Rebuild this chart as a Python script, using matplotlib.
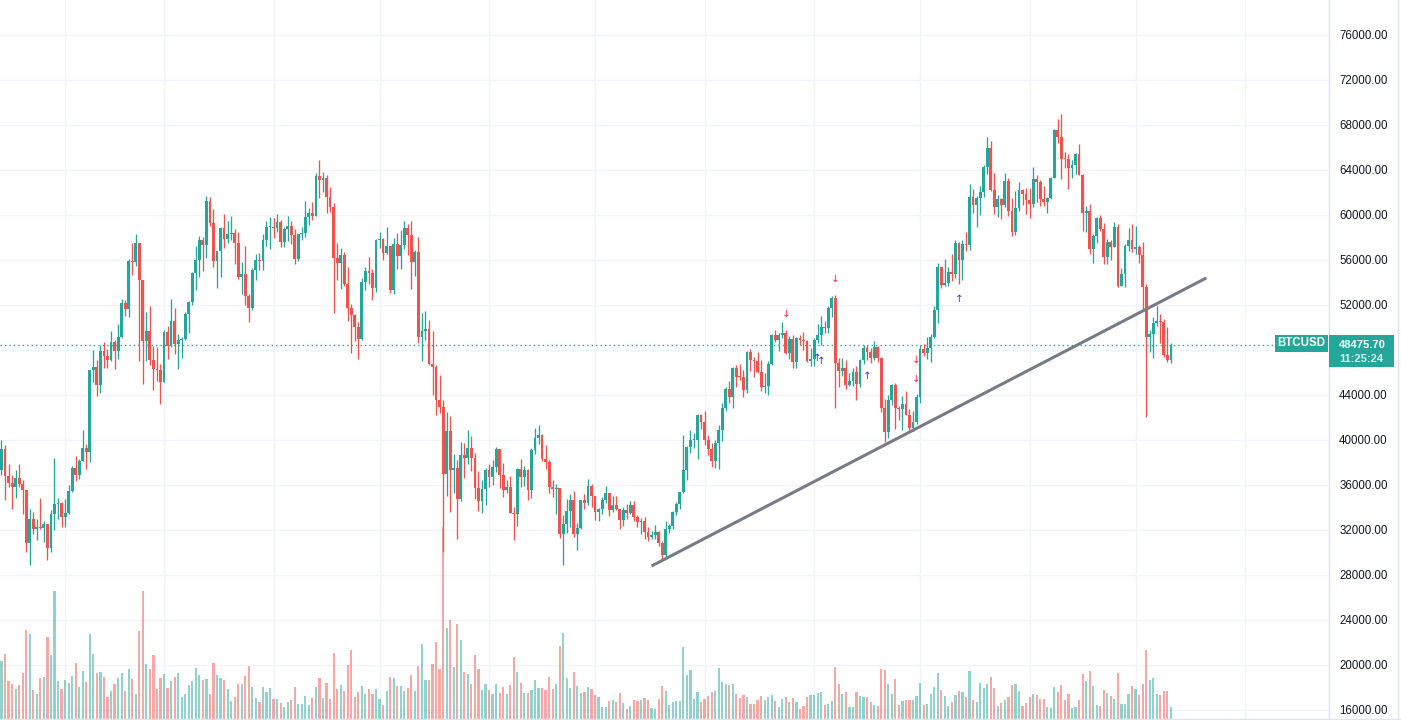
import matplotlib
matplotlib.use('Agg')
import matplotlib.pyplot as plt
import matplotlib.transforms as mtrans
from matplotlib.patches import Rectangle
from matplotlib.lines import Line2D
import numpy as np
import pandas as pd

# ---------------- data (BTCUSD daily, 2021-01-14 .. 2021-12-11) ----------------
start_date = '2021-01-14'
first_open = 37316

closes = [
    # Jan
    39187, 36825, 36178, 35792, 36630, 36069, 35547, 30825, 33005, 32067, 32289, 32200, 32569, 30432, 33466, 34316, 34400, 33114,
    # Feb
    33537, 35510, 37472, 36926, 38144, 39266, 38903, 46196, 46481, 44918, 47909, 47504, 47105, 48717, 47945, 49199, 52149, 51679,
    55888, 55800, 57539, 54207, 48824, 49705, 47093, 46339, 46188, 45137,
    # Mar
    49631, 48378, 50538, 48561, 48927, 49000, 51206, 52246, 54824, 56008, 57805, 57332, 61243, 59302, 55907, 56804, 58870, 57858,
    58346, 58400, 57523, 54529, 54738, 52774, 51704, 55137, 55973, 55950, 57750, 58917, 58918,
    # Apr
    58800, 59384, 57603, 58758, 59057, 58192, 56048, 58323, 58400, 59793, 60204, 59893, 63503, 63109, 63314, 61572, 60683, 56216,
    55724, 56473, 53906, 51762, 51093, 50050, 49004, 54021, 55033, 54824, 53555, 57750,
    # May
    57828, 56631, 57200, 53333, 57424, 56397, 57357, 58803, 58232, 55859, 56704, 49150, 49716, 49880, 46760, 46456, 43538, 42909,
    37002, 40782, 37304, 37536, 34770, 38705, 38402, 39294, 38436, 35697, 34616, 35678, 37332,
    # Jun
    36684, 37575, 39188, 36851, 35520, 35797, 33552, 33380, 37388, 36702, 37334, 35552, 39097, 40219, 40406, 38347, 38053, 35787,
    35615, 35698, 31676, 32505, 33723, 34662, 31637, 32186, 34649, 34434, 35867, 35040,
    # Jul
    33572, 33897, 34668, 35287, 33746, 34235, 33855, 32877, 33798, 33520, 34240, 33155, 32702, 32822, 31780, 31421, 31533, 31796,
    30817, 29807, 32110, 32313, 33581, 34292, 35350, 37337, 39406, 39995, 40008, 42235, 41626,
    # Aug
    39974, 39201, 38152, 39747, 40869, 42816, 44555, 43798, 46365, 45585, 45560, 44428, 47794, 47097, 47047, 46004, 44695, 44801,
    46717, 49339, 48905, 49321, 49547, 47706, 48960, 46943, 49058, 48903, 48829, 47054, 47166,
    # Sep
    48847, 49327, 50025, 49944, 51753, 52633, 46811, 46091, 46391, 44883, 45201, 46063, 44963, 47092, 48176, 47783, 47267, 48278,
    47260, 42844, 40693, 43574, 44895, 42839, 42716, 43208, 42235, 41034, 41564, 43790,
    # Oct
    48116, 47711, 48199, 49112, 51514, 55361, 53805, 53967, 54968, 54771, 57484, 56041, 57401, 57321, 61593, 60892, 61553, 62026,
    64261, 65992, 62210, 60692, 61393, 60930, 63039, 60363, 58482, 60622, 62227, 61888, 61319,
    # Nov
    61004, 63226, 62970, 61452, 61125, 61527, 63327, 67566, 66971, 64995, 64949, 64155, 64469, 65466, 63557, 60161, 60368, 56942,
    58119, 59697, 58730, 56289, 57569, 57167, 58960, 53726, 54721, 57274, 57776, 56951,
    # Dec
    57184, 56480, 53601, 49153, 49396, 50441, 50589, 50471, 47545, 47140, 48475.70,
]

highs = [
    39966, 39577, 37900, 36853, 37299, 37850, 36415, 35552, 33827, 33561, 32944, 34802, 32794, 32557, 33783, 38406, 34834, 34500,
    34717, 35984, 37662, 38592, 38310, 40846, 39621, 46204, 48003, 47145, 48463, 48745, 48047, 49707, 48875, 50341, 52533, 52474,
    56113, 57505, 58352, 57534, 54205, 51374, 51947, 48370, 48253, 46716,
    49790, 50128, 52536, 51735, 49432, 49147, 51384, 52314, 54900, 57258, 58091, 58079, 61683, 61597, 60540, 56833, 58970, 60048,
    59468, 59880, 58767, 58471, 55830, 57200, 53000, 55300, 56568, 56610, 58342, 59447, 59800,
    59740, 60110, 59592, 58913, 59891, 59474, 58731, 58338, 58937, 61217, 60659, 61185, 63742, 64863, 63800, 63523, 62507, 61057,
    57526, 57076, 56710, 55410, 52131, 51167, 50506, 54356, 55416, 56227, 55173, 57900,
    58448, 57942, 58973, 57227, 57939, 58360, 58650, 59464, 59210, 59500, 56872, 58000, 51330, 51438, 50639, 49720, 46623, 45812,
    43546, 42462, 42172, 38776, 38202, 39835, 39743, 40900, 40379, 38856, 37234, 36400, 37468,
    37896, 38231, 39367, 39242, 37917, 36436, 36790, 34017, 37534, 38334, 37680, 37439, 39322, 41064, 41295, 40516, 39513, 38187,
    36457, 36059, 35721, 33292, 34753, 35164, 35487, 32637, 34656, 35219, 36542, 36074,
    35035, 33939, 34909, 35937, 35284, 35038, 35056, 33910, 34042, 34267, 34592, 34617, 33330, 33079, 33159, 32249, 31936, 32420,
    31885, 31032, 32820, 32576, 33650, 34464, 35364, 40415, 39500, 40879, 40625, 42316, 42300,
    42541, 40446, 39772, 39969, 41341, 43271, 44689, 45282, 46456, 46637, 46718, 46228, 47886, 48098, 47372, 47837, 47088, 45969,
    47029, 49380, 49758, 49488, 50482, 49802, 49202, 49347, 49112, 49289, 49640, 48873, 48178,
    49052, 50343, 51033, 50541, 51868, 52780, 52853, 47281, 47261, 47114, 45970, 46364, 46598, 47218, 48450, 48486, 48167, 48791,
    48328, 47347, 43600, 44035, 44978, 45080, 42996, 43920, 44313, 42775, 42545, 44092,
    48436, 48496, 49130, 49456, 51886, 55750, 55338, 56100, 55337, 56545, 57812, 57627, 57751, 58500, 62757, 62275, 61687, 62614,
    64434, 66930, 66600, 63715, 61743, 61505, 63710, 63278, 61496, 62128, 62927, 62330, 62406,
    62419, 64242, 63516, 63123, 62541, 61590, 63400, 67673, 68530, 68990, 65579, 65460, 64915, 65495, 66281, 63617, 60823, 60948,
    58351, 59859, 60004, 59266, 57875, 57803, 59367, 59186, 55280, 57393, 58872, 59176,
    59041, 57375, 57600, 53904, 49768, 50929, 51934, 51171, 50797, 50015, 48600,
]

lows = [
    36868, 34659, 35820, 33850, 34883, 35844, 33400, 30071, 28850, 31680, 31106, 32087, 30940, 29367, 30013, 31991, 32940, 32270,
    32296, 33418, 35362, 36317, 36570, 38138, 37446, 38076, 45166, 43881, 44187, 46424, 46392, 47022, 46347, 47201, 49072, 51015,
    50937, 54626, 55477, 47000, 45000, 47003, 46682, 44454, 45269, 43241,
    45115, 47228, 48274, 47656, 46300, 47257, 48918, 49506, 51981, 53290, 54484, 54988, 56218, 59000, 55393, 53555, 54528, 57023,
    57510, 57820, 55600, 54288, 53000, 52000, 50500, 51579, 54242, 55071, 55139, 57251, 56962,
    57935, 58506, 57117, 57168, 57694, 57400, 55604, 55879, 57807, 58050, 59143, 59562, 59869, 61554, 62020, 60222, 60239, 51300,
    54221, 53457, 53695, 50583, 47714, 48805, 47159, 48852, 53319, 53887, 52400, 53129,
    57052, 56035, 56541, 53046, 52969, 55200, 55241, 56975, 56482, 53400, 54608, 48600, 46980, 48868, 46664, 43963, 42207, 42367,
    30000, 35050, 33616, 35257, 31227, 34551, 36581, 37869, 37247, 34779, 33693, 33520, 34241,
    35787, 35966, 37170, 35717, 34900, 35304, 33480, 31114, 32396, 35847, 35936, 34707, 34864, 38735, 39609, 38176, 37439, 35255,
    34933, 33432, 31295, 28893, 31772, 32286, 31350, 30184, 32071, 33902, 34252, 34086,
    32883, 32770, 33402, 34396, 33213, 33599, 33779, 32133, 32318, 33004, 33450, 32843, 32257, 31661, 31175, 31047, 31179, 31225,
    30563, 29360, 29526, 31745, 32057, 33316, 33881, 35298, 36441, 38815, 39296, 38323, 41002,
    39540, 38703, 37642, 37508, 37458, 39932, 42618, 43261, 42848, 44705, 45351, 43861, 44217, 46177, 45611, 45954, 44376, 44204,
    43998, 46650, 48679, 47947, 49074, 47646, 47163, 46405, 46394, 48428, 47974, 46950, 46620,
    46537, 48652, 48453, 49521, 49543, 50969, 42844, 44732, 45669, 44510, 44771, 44793, 43591, 44752, 46773, 47079, 46805, 47087,
    46958, 42500, 39787, 40191, 43109, 40936, 41759, 40848, 42190, 40931, 40829, 41444,
    43320, 47430, 47156, 46895, 49073, 50382, 53525, 53661, 53702, 54119, 54416, 53879, 54258, 56818, 56868, 60150, 58963, 60012,
    61622, 63610, 62117, 60122, 59826, 59643, 60673, 59884, 58173, 58206, 60329, 60918, 60074,
    59695, 60673, 61184, 60799, 60844, 60163, 61432, 63344, 66382, 63208, 64180, 62333, 63303, 63647, 63548, 58574, 58515, 56550,
    55705, 57469, 58618, 55679, 55632, 55964, 57146, 53569, 53668, 53576, 56792, 56675,
    56553, 55777, 51680, 42000, 47857, 47281, 50176, 48639, 47358, 46900, 46800,
]

# daily volume (thousand units)
volumes = [
    58, 65, 38, 35, 30, 34, 46, 89, 85, 29, 25, 41, 42, 82, 64, 128, 38, 30,
    39, 36, 43, 56, 32, 48, 37, 85, 65, 46, 47, 42, 22, 28, 35, 41, 46, 28, 50, 40, 25, 88, 128, 55, 50, 64, 30, 41,
    45, 31, 38, 42, 46, 22, 25, 34, 38, 51, 44, 39, 40, 25, 56, 44, 41, 39, 30, 18, 22, 35, 35, 43, 53, 32, 21, 17, 32, 27, 31,
    20, 20, 16, 12, 17, 19, 32, 15, 15, 23, 14, 21, 32, 41, 21, 36, 20, 66, 30, 34, 28, 54, 69, 22, 27, 33, 25, 30, 25, 30,
    20, 14, 28, 42, 41, 33, 33, 28, 31, 44, 28, 53, 75, 39, 39, 55, 77, 50, 192, 91, 99, 52, 95, 79, 47, 45, 35, 64, 50, 29, 35,
    29, 25, 35, 26, 32, 25, 34, 62, 47, 36, 26, 26, 29, 39, 31, 31, 29, 42, 30, 35, 73, 86, 41, 31, 47, 33, 26, 27, 32, 30,
    24, 22, 12, 12, 18, 19, 17, 26, 16, 10, 13, 19, 18, 19, 21, 19, 11, 10, 20, 33, 28, 14, 17, 18, 18, 72, 44, 49, 20, 27, 17,
    20, 23, 27, 28, 51, 37, 35, 34, 35, 25, 21, 24, 22, 15, 15, 19, 23, 19, 22, 24, 18, 12, 20, 22, 17, 21, 17, 10, 13, 22, 24,
    24, 26, 27, 14, 15, 18, 52, 35, 25, 27, 12, 12, 27, 23, 22, 22, 17, 14, 13, 50, 49, 35, 25, 40, 14, 18, 19, 19, 19, 23,
    36, 14, 15, 25, 32, 46, 29, 23, 13, 17, 24, 28, 27, 22, 48, 19, 17, 36, 31, 35, 42, 31, 13, 16, 19, 22, 34, 35, 28, 13, 16,
    22, 25, 24, 20, 20, 12, 11, 32, 27, 34, 19, 25, 11, 12, 19, 45, 38, 48, 33, 14, 13, 29, 26, 23, 20, 46, 15, 15, 25, 33,
    30, 24, 35, 69, 39, 41, 25, 24, 28, 28, 12,
]

# each daily candle opens at the previous day's close
opens = [first_open] + closes[:-1]

price_ticks = list(range(16000, 76001, 4000))
hidden_tick = 48000          # covered by the last-price badge in the reference
symbol_label = 'BTCUSD'
last_price_label = '48475.70'
countdown_label = '11:25:24'

trend_dates = ['2021-07-17', '2021-12-21']
trend_prices = [28800, 54400]

down_arrow_dates = ['2021-08-24', '2021-09-07', '2021-09-30', '2021-09-30']
down_arrow_prices = [51200, 54300, 47100, 45400]
up_arrow_dates = ['2021-09-02', '2021-09-03', '2021-09-16', '2021-10-12']
up_arrow_prices = [47300, 47000, 45700, 52500]

# ---------------- styling ----------------
UP = '#26a69a'
DOWN = '#ef5350'
GRID = '#f0f3fa'
BORDER = '#e0e3eb'
TEXT = '#131722'

W, H = 1401, 720
PANE_W = 1329
PX_PER_BAR = 3.533

fig = plt.figure(figsize=(W / 100, H / 100), dpi=100)
fig.patch.set_facecolor('white')
ax_v = fig.add_axes([0, 0, PANE_W / W, 1])
ax = fig.add_axes([0, 0, PANE_W / W, 1], sharex=ax_v)
ax.patch.set_visible(False)

start = pd.Timestamp(start_date)
def idx(d):
    return (pd.Timestamp(d) - start).days

n = len(closes)
x = np.arange(n)
o = np.array(opens, dtype=float)
c = np.array(closes, dtype=float)
hi = np.maximum(np.array(highs, dtype=float), np.maximum(o, c))
lo = np.minimum(np.array(lows, dtype=float), np.minimum(o, c))
up = c >= o
cols = np.where(up, UP, DOWN)

ax_v.set_xlim(-1.5 / PX_PER_BAR, (PANE_W - 1.5) / PX_PER_BAR)
ax_v.set_ylim(-1, 719)
ax.set_ylim(15111, 79111)

for a in (ax, ax_v):
    for s in a.spines.values():
        s.set_visible(False)
ax_v.set_xticks([]); ax_v.set_yticks([])
ax.tick_params(axis='x', which='both', length=0, labelbottom=False)

# grid
for m in pd.date_range('2021-02-01', '2022-01-01', freq='MS'):
    ax_v.axvline(idx(m), color=GRID, lw=1, zorder=0)
blend = mtrans.blended_transform_factory(ax_v.transAxes, ax.transData)
for t in price_ticks:
    ax_v.plot([0, 1], [t, t], transform=blend, color=GRID, lw=1, zorder=0)

# volume
ax_v.bar(x, volumes, width=0.62, color=cols, alpha=0.5, lw=0, zorder=1)

# candles
ax.vlines(x, lo, hi, colors=cols, lw=0.95, zorder=3)
body_bottom = np.minimum(o, c)
body_h = np.maximum(np.abs(c - o), 90)
ax.bar(x, body_h, bottom=body_bottom, width=0.8, color=cols, lw=0, zorder=4)

# last price line
ax.axhline(closes[-1], color=UP, lw=1, ls=(0, (1, 2.2)), zorder=2)

# trend line
ax.plot([idx(d) for d in trend_dates], trend_prices, color='#787b86', lw=2.2,
        solid_capstyle='butt', zorder=5)

# signal arrows
for d, p in zip(down_arrow_dates, down_arrow_prices):
    ax.text(idx(d), p, '\u2193', color='#f23645', ha='center', va='center',
            fontsize=7.5, family='DejaVu Sans', zorder=6)
for d, p in zip(up_arrow_dates, up_arrow_prices):
    ax.text(idx(d), p, '\u2191', color='#2f3cf5', ha='center', va='center',
            fontsize=7.5, family='DejaVu Sans', zorder=6)

# right price scale
ax.yaxis.tick_right()
shown_ticks = [t for t in price_ticks if t != hidden_tick]
ax.set_yticks(shown_ticks)
ax.set_yticklabels([f'{t:.2f}' for t in shown_ticks])
ax.tick_params(axis='y', length=0, pad=7.3, labelsize=8.3, labelcolor=TEXT)
for lab in ax.get_yticklabels():
    lab.set_fontfamily('Liberation Sans')

# borders
fig.add_artist(Line2D([PANE_W / W, PANE_W / W], [0, 1], color=BORDER, lw=1, transform=fig.transFigure))
fig.add_artist(Line2D([0, 1], [1.5 / H, 1.5 / H], color=BORDER, lw=1, transform=fig.transFigure))
fig.add_artist(Line2D([1398 / W, 1398 / W], [0, 1], color=BORDER, lw=1, transform=fig.transFigure))

# badges
fig.add_artist(Rectangle((1275 / W, 1 - 352 / H), 53 / W, 17 / H, transform=fig.transFigure,
                         facecolor=UP, edgecolor='none', zorder=5))
fig.text(1301.5 / W, 1 - 343.5 / H, symbol_label, color='white', fontsize=8.3, fontweight='bold',
         ha='center', va='center', family='Liberation Sans', zorder=6)
fig.add_artist(Rectangle((1329 / W, 1 - 367 / H), 65 / W, 32 / H, transform=fig.transFigure,
                         facecolor=UP, edgecolor='none', zorder=5))
fig.text(1339 / W, 1 - 344.5 / H, last_price_label, color='white', fontsize=8, fontweight='bold',
         ha='left', va='center', family='Liberation Sans', zorder=6)
fig.text(1339 / W, 1 - 359 / H, countdown_label, color='#d2ece8', fontsize=8, fontweight='bold',
         ha='left', va='center', family='Liberation Sans', zorder=6)

fig.savefig('out.png', dpi=100, facecolor='white')
